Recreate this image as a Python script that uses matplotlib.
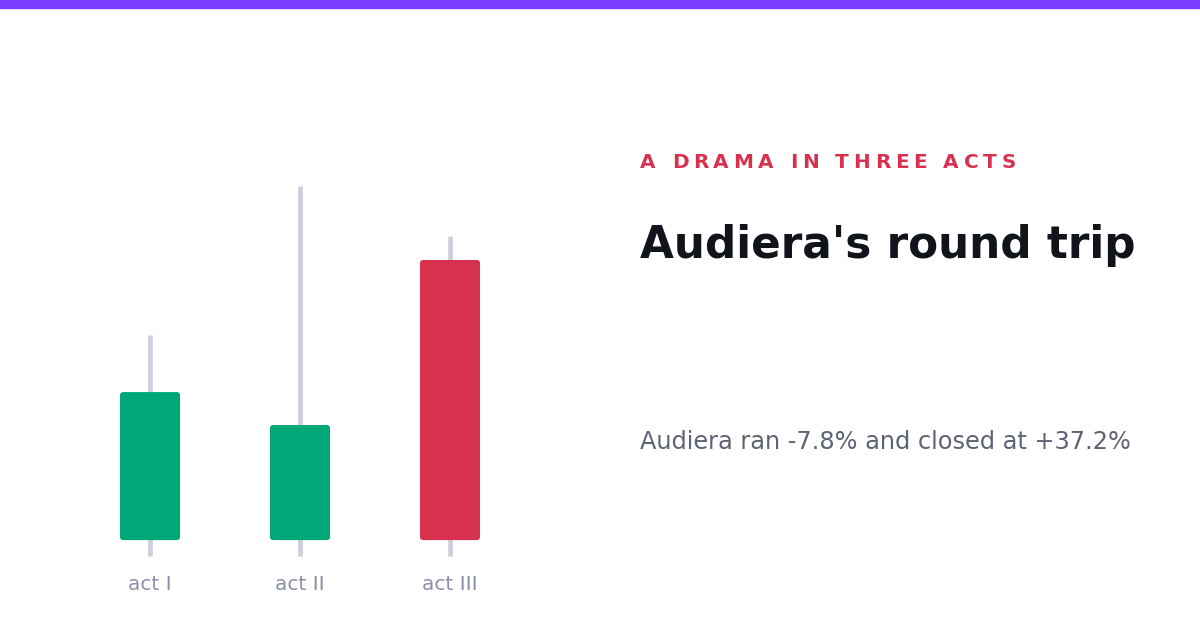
import matplotlib
matplotlib.use("Agg")
import matplotlib.pyplot as plt
from matplotlib.patches import FancyBboxPatch
from matplotlib.font_manager import FontProperties, findfont, get_font

# candle values per act (arbitrary price index)
acts = ["act I", "act II", "act III"]
opens = [4.3, 4.3, 80.0]
closes = [44.3, 35.4, 4.3]
highs = [59.7, 100.0, 86.5]
lows = [0.0, 0.0, 0.0]

kicker = "A DRAMA IN THREE ACTS"
title = "Audiera's round trip"
subtitle = "Audiera ran -7.8% and closed at +37.2%"

GREEN = "#00a878"
RED = "#d7314f"
WICK = "#cbd0dc"
W, H, DPI = 1200, 630, 100

fig = plt.figure(figsize=(W / DPI, H / DPI), dpi=DPI)
fig.patch.set_facecolor("white")

# purple strip on top
fig.patches.append(plt.Rectangle((0, 1 - 8 / H), 1, 8 / H, transform=fig.transFigure,
                                 color="#7c3aff", zorder=5))

ax_w, ax_h = 450, 370
ax = fig.add_axes([75 / W, (H - 556) / H, ax_w / W, ax_h / H])
ax.set_xlim(-0.5, 2.5)
ax.set_ylim(0, 100)
for s in ax.spines.values():
    s.set_visible(False)
ax.set_yticks([])

x = list(range(len(acts)))
ax.vlines(x, lows, highs, color=WICK, linewidth=3.4, zorder=1, clip_on=False)

# bodies with slightly rounded corners
body_w = 0.4
px_x = ax_w / 3.0     # pixels per x unit
px_y = ax_h / 100.0   # pixels per y unit
for xi, o, c in zip(x, opens, closes):
    col = GREEN if c >= o else RED
    box = FancyBboxPatch((xi - body_w / 2, min(o, c)), body_w, abs(c - o),
                         boxstyle="round,pad=0,rounding_size=%f" % (3 / px_x),
                         mutation_aspect=px_x / px_y,
                         facecolor=col, edgecolor="none", zorder=2)
    ax.add_patch(box)

ax.set_xticks(x)
ax.set_xticklabels(acts, fontsize=14.4, color="#8a90a6")
ax.tick_params(axis="x", length=0, pad=14)

# letter-spaced kicker
kprop = FontProperties(family="DejaVu Sans", weight="bold", size=14.4)
font = get_font(findfont(kprop))
font.set_size(14.4, DPI)
cx = 640
for ch in kicker:
    fig.text(cx / W, 1 - 163 / H, ch, fontproperties=kprop, color=RED, va="center", ha="left")
    adv = font.load_char(ord(ch)).linearHoriAdvance / 65536
    cx += adv + 4.7

fig.text(640 / W, 1 - 246 / H, title, fontsize=31.5, fontweight="bold", color="#12141c",
         va="center", ha="left")
fig.text(640 / W, 1 - 442 / H, subtitle, fontsize=17.3, color="#5d6275",
         va="center", ha="left")

fig.savefig("out.png", dpi=DPI)
